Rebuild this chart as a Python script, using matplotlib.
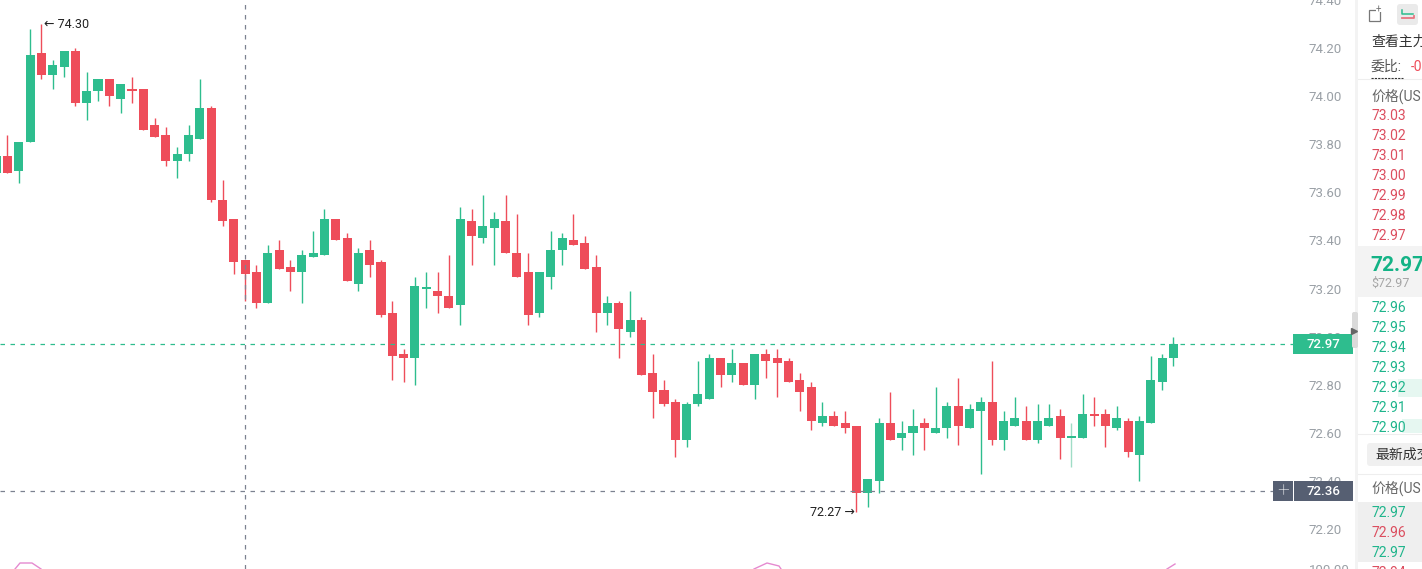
import matplotlib
matplotlib.use("Agg")
import matplotlib.pyplot as plt
from matplotlib.patches import Rectangle, FancyBboxPatch

plt.rcParams["font.family"] = ["Roboto", "Noto Sans CJK SC", "DejaVu Sans"]

GREEN = "#2EBD8E"
RED = "#EE4D5A"
GREY = "#9AA0A6"

opens = [73.68, 73.75, 73.69, 73.81, 74.18, 74.09, 74.12, 74.19, 73.97, 74.02,
         74.07, 73.99, 74.03, 74.03, 73.88, 73.84, 73.73, 73.76, 73.82, 73.95,
         73.57, 73.49, 73.32, 73.27, 73.14, 73.36, 73.29, 73.27, 73.33, 73.34,
         73.49, 73.41, 73.22, 73.36, 73.31, 73.10, 72.93, 72.91, 73.20, 73.19,
         73.17, 73.13, 73.48, 73.41, 73.45, 73.48, 73.35, 73.27, 73.10, 73.25,
         73.36, 73.40, 73.39, 73.29, 73.10, 73.14, 73.02, 73.07, 72.85, 72.78,
         72.73, 72.57, 72.72, 72.74, 72.91, 72.84, 72.89, 72.80, 72.93, 72.91,
         72.90, 72.82, 72.79, 72.64, 72.67, 72.64, 72.63, 72.35, 72.40, 72.64,
         72.58, 72.60, 72.64, 72.60, 72.62, 72.71, 72.62, 72.69, 72.73, 72.57,
         72.63, 72.65, 72.57, 72.63, 72.67, 72.58, 72.58, 72.68, 72.68, 72.62,
         72.65, 72.51, 72.64, 72.81, 72.91]
closes = [73.75, 73.68, 73.81, 74.17, 74.09, 74.13, 74.19, 73.97, 74.02, 74.07,
          74.00, 74.05, 74.02, 73.86, 73.83, 73.73, 73.76, 73.84, 73.95, 73.57,
          73.48, 73.31, 73.26, 73.14, 73.35, 73.28, 73.27, 73.34, 73.35, 73.49,
          73.40, 73.23, 73.35, 73.30, 73.09, 72.92, 72.91, 73.21, 73.20, 73.17,
          73.12, 73.49, 73.42, 73.46, 73.49, 73.35, 73.25, 73.09, 73.27, 73.36,
          73.41, 73.38, 73.28, 73.10, 73.14, 73.03, 73.07, 72.84, 72.77, 72.72,
          72.57, 72.72, 72.76, 72.91, 72.84, 72.89, 72.80, 72.93, 72.90, 72.89,
          72.81, 72.77, 72.65, 72.67, 72.63, 72.62, 72.35, 72.41, 72.64, 72.57,
          72.60, 72.63, 72.62, 72.62, 72.71, 72.63, 72.70, 72.73, 72.57, 72.65,
          72.66, 72.57, 72.65, 72.66, 72.58, 72.58, 72.68, 72.67, 72.63, 72.66,
          72.52, 72.65, 72.82, 72.91, 72.97]
highs = [73.75, 73.84, 73.81, 74.28, 74.30, 74.15, 74.19, 74.20, 74.10, 74.07,
         74.07, 74.05, 74.08, 74.03, 73.91, 73.87, 73.79, 73.88, 74.07, 73.96,
         73.65, 73.49, 73.32, 73.30, 73.38, 73.40, 73.32, 73.36, 73.44, 73.53,
         73.49, 73.43, 73.37, 73.40, 73.32, 73.15, 72.95, 73.25, 73.27, 73.27,
         73.34, 73.54, 73.53, 73.59, 73.52, 73.59, 73.51, 73.35, 73.27, 73.44,
         73.43, 73.51, 73.42, 73.34, 73.17, 73.15, 73.19, 73.08, 72.93, 72.82,
         72.74, 72.73, 72.90, 72.93, 72.91, 72.95, 72.89, 72.93, 72.95, 72.95,
         72.91, 72.85, 72.81, 72.73, 72.69, 72.69, 72.63, 72.41, 72.66, 72.77,
         72.65, 72.70, 72.66, 72.79, 72.73, 72.83, 72.72, 72.75, 72.90, 72.69,
         72.75, 72.71, 72.72, 72.72, 72.70, 72.64, 72.76, 72.75, 72.70, 72.71,
         72.66, 72.67, 72.92, 72.93, 73.00]
lows = [73.54, 73.68, 73.64, 73.81, 74.07, 74.03, 74.08, 73.96, 73.90, 73.98,
        73.96, 73.93, 73.97, 73.86, 73.83, 73.71, 73.66, 73.73, 73.82, 73.56,
        73.46, 73.26, 73.15, 73.12, 73.14, 73.28, 73.19, 73.14, 73.33, 73.34,
        73.40, 73.23, 73.19, 73.25, 73.08, 72.82, 72.81, 72.80, 73.12, 73.10,
        73.12, 73.05, 73.30, 73.39, 73.30, 73.35, 73.25, 73.05, 73.08, 73.20,
        73.30, 73.38, 73.28, 73.02, 73.05, 72.91, 73.00, 72.84, 72.66, 72.71,
        72.50, 72.54, 72.71, 72.74, 72.79, 72.81, 72.80, 72.74, 72.83, 72.75,
        72.81, 72.69, 72.61, 72.63, 72.63, 72.60, 72.27, 72.29, 72.35, 72.57,
        72.53, 72.51, 72.53, 72.60, 72.58, 72.55, 72.62, 72.43, 72.55, 72.53,
        72.63, 72.57, 72.56, 72.63, 72.49, 72.46, 72.58, 72.63, 72.54, 72.61,
        72.50, 72.40, 72.64, 72.78, 72.88]

price_ticks = [74.40, 74.20, 74.00, 73.80, 73.60, 73.40, 73.20, 73.00, 72.80,
               72.60, 72.40, 72.20]
last_price = 72.97
cross_price = 72.36
cross_index = 22
hover_index = 95
ask_prices = ["73.03", "73.02", "73.01", "73.00", "72.99", "72.98", "72.97"]
bid_prices = ["72.96", "72.95", "72.94", "72.93", "72.92", "72.91", "72.90"]
trade_prices = ["72.97", "72.96", "72.97", "72.94"]
trade_colors = ["#1FB58C", "#DC4D5E", "#1FB58C", "#DC4D5E"]

fig = plt.figure(figsize=(14.22, 5.69), dpi=100)
W, H = 1422, 569

# chart pane, 1293 px wide, price axis labels sit to its right
ax = fig.add_axes([0, 0, 1293 / W, 1])
ax.set_xlim(0.34, 114.57)
ax.set_ylim(72.034, 74.395)
for s in ax.spines.values():
    s.set_visible(False)
ax.set_xticks([])
ax.yaxis.tick_right()
ax.set_yticks(price_ticks)
ax.set_yticklabels([f"{p:.2f}" for p in price_ticks])
ax.tick_params(axis="y", length=0, pad=11.5, labelsize=9.5, labelcolor=GREY)

xs = range(len(opens))
colors = [GREEN if c >= o else RED for o, c in zip(opens, closes)]
wick_colors = list(colors)
wick_colors[hover_index] = "#9FDCC6"
ax.vlines(xs, lows, highs, colors=wick_colors, linewidth=1.0, zorder=3)
bottoms = [min(o, c) for o, c in zip(opens, closes)]
heights = [max(abs(c - o), 0.006) for o, c in zip(opens, closes)]
ax.bar(xs, heights, bottom=bottoms, width=0.8, color=colors, linewidth=0, zorder=3)

ax.axhline(last_price, color=GREEN, linewidth=0.9, dashes=(3.6, 4.4), zorder=4)
ax.plot([0.34, 112.8], [cross_price, cross_price], color="#7C8290", linewidth=0.9,
        dashes=(3.6, 4.4), zorder=4)
ax.axvline(cross_index, color="#7C8290", linewidth=0.9, dashes=(3.6, 4.4), zorder=4)

i_hi = highs.index(max(highs))
ax.annotate(f"\u2190 {max(highs):.2f}", xy=(i_hi, max(highs)), xytext=(2, 0),
            textcoords="offset points", va="center", ha="left", fontsize=9,
            color="#222222", family=["Roboto", "DejaVu Sans"])
i_lo = lows.index(min(lows))
ax.annotate(f"{min(lows):.2f} \u2192", xy=(i_lo, min(lows)), xytext=(-1, 0),
            textcoords="offset points", va="center", ha="right", fontsize=9,
            color="#222222", family=["Roboto", "DejaVu Sans"])

# overlay in pixels for the page furniture around the chart
ui = fig.add_axes([0, 0, 1, 1], zorder=5)
ui.set_xlim(0, W)
ui.set_ylim(H, 0)
ui.axis("off")
ui.patch.set_alpha(0)

# indicator pane peeking in at the bottom
for px, py in [([15, 20, 32, 41], [569, 563, 563, 569]),
               ([754, 767, 779, 781], [569, 563, 566, 569]),
               ([1167, 1175], [569, 564])]:
    ui.plot(px, py, color="#E58AD0", linewidth=1.0)
ui.text(1309, 570, "100.00", color=GREY, fontsize=9.5, va="center", ha="left")

# price tags
ui.add_patch(Rectangle((1293, 334), 60, 20, color=GREEN, lw=0))
ui.text(1323, 344, f"{last_price:.2f}", color="white", fontsize=9.5, va="center",
        ha="center", fontweight="medium")
ui.add_patch(Rectangle((1273, 481), 20, 20, color="#565F72", lw=0))
ui.text(1283, 490.5, "+", color="white", fontsize=15, va="center", ha="center",
        fontweight="light")
ui.add_patch(Rectangle((1294, 481), 59, 20, color="#565F72", lw=0))
ui.text(1323, 491, f"{cross_price:.2f}", color="white", fontsize=9.5, va="center",
        ha="center", fontweight="medium")

# order book side panel
ui.add_patch(Rectangle((1355, 0), 67, H, color="white", lw=0, zorder=0))
ui.add_patch(Rectangle((1355, 0), 3, H, color="#F3F3F3", lw=0))
ui.add_patch(FancyBboxPatch((1352, 312), 6, 36, boxstyle="round,pad=0,rounding_size=2",
                            color="#DADADA", lw=0))
ui.plot([1354], [331], marker=">", color="#666666", markersize=4, zorder=6)

ui.add_patch(Rectangle((1369, 10), 11, 11, fill=False, ec="#777777", lw=0.9))
ui.add_patch(Rectangle((1376, 6), 6, 6, color="white", lw=0))
ui.text(1378.5, 10, "+", fontsize=7, color="#777777", ha="center", va="center")
ui.add_patch(FancyBboxPatch((1397, 4), 21, 21, boxstyle="round,pad=0,rounding_size=3",
                            color="#EAEAEA", lw=0))
ui.plot([1402, 1402, 1413], [10, 14, 14], color=GREEN, lw=1.1)
ui.plot([1402, 1414, 1414], [18, 18, 15.5], color="#E77580", lw=1.3)

ui.text(1371, 41.5, "查看主力", fontsize=10, color="#333333", va="center", clip_on=True)
ui.text(1371, 66.5, "委比:", fontsize=10, color="#555555", va="center")
ui.text(1411, 66.5, "-0", fontsize=10, color=RED, va="center", clip_on=True)
ui.plot([1371, 1403], [78, 78], color="#333333", lw=0.8, dashes=(2, 1))
ui.plot([1358, 1422], [78.5, 78.5], color="#EEEEEE", lw=0.8, zorder=0)
ui.text(1371, 96, "价格(US", fontsize=10, color="#666666", va="center", clip_on=True)

for i, label in enumerate(ask_prices):
    ui.text(1371.5, 116 + 20 * i, label, fontsize=10, color="#DC4D5E", va="center")

ui.add_patch(Rectangle((1358, 246), 64, 51, color="#F3F3F3", lw=0))
ui.text(1370.5, 265, f"{last_price:.2f}", fontsize=15, fontweight="bold", color="#14B386",
        va="center")
ui.text(1371, 283.5, f"${last_price:.2f}", fontsize=9, color="#A5A5A5", va="center")

ui.add_patch(Rectangle((1398, 379), 24, 18, color="#E6F7F1", lw=0))
ui.add_patch(Rectangle((1402, 419), 20, 14, color="#E6F7F1", lw=0))
for i, label in enumerate(bid_prices):
    ui.text(1371.5, 308 + 20 * i, label, fontsize=10, color="#1FB58C", va="center")

ui.plot([1358, 1422], [433.5, 433.5], color="#EEEEEE", lw=0.8)
ui.add_patch(FancyBboxPatch((1367, 443), 60, 23, boxstyle="round,pad=0,rounding_size=3",
                            color="#F0F0F0", lw=0))
ui.text(1375, 455, "最新成交", fontsize=10, color="#333333", va="center", clip_on=True)
ui.plot([1358, 1422], [473.5, 473.5], color="#EEEEEE", lw=0.8)
ui.text(1371, 488, "价格(US", fontsize=10, color="#666666", va="center", clip_on=True)

ui.add_patch(Rectangle((1358, 502), 64, 60, color="#EFEFEF", lw=0))
for i, (label, col) in enumerate(zip(trade_prices, trade_colors)):
    ui.text(1371.5, 513 + 20 * i, label, fontsize=10, color=col, va="center")

fig.savefig("out.png", dpi=100)
